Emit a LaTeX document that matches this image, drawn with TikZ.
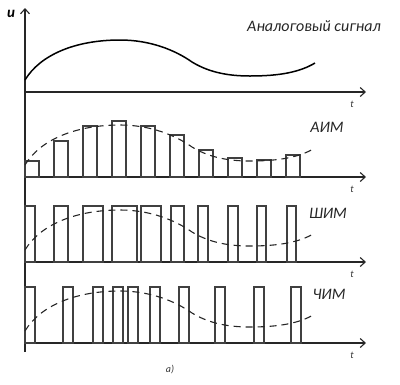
\documentclass[tikz,border=0pt]{standalone}
\usepackage{fontspec}
\setmainfont{Carlito}
\usetikzlibrary{arrows.meta}
\begin{document}
\begin{tikzpicture}[x=1pt,y=-1pt,
  axis/.style={line width=1.1pt, draw=black!85, -{Straight Barb[length=5pt,width=9pt]}},
  pulse/.style={line width=1.1pt, draw=black!75},
  sig/.style={line width=1.5pt, draw=black},
  dsig/.style={line width=1.1pt, draw=black!85, dash pattern=on 7pt off 5pt},
  lab/.style={font=\itshape\fontsize{16}{17}\selectfont, text=black!85, inner sep=0pt},
  tlab/.style={font=\itshape\fontsize{10}{11}\selectfont, text=black!80, inner sep=0pt}]
\useasboundingbox (0,0) rectangle (400,384);
\def\sigcurve{(25,80) .. controls (40,55) and (75,40) .. (120,40) .. controls (150,40) and (175,50) .. (192,62) .. controls (210,73) and (230,76) .. (250,76) .. controls (280,76) and (300,72) .. (315,63)}
% axes
\coordinate (o) at (25,352);
\coordinate (ytop) at (25,8);
\draw[axis] (o) -- (ytop);
\foreach \yy/\nm in {92/a,177/b,262/c,343/d}{
  \coordinate (s\nm) at (25,\yy);
  \coordinate (e\nm) at (366,\yy);
  \draw[axis] (s\nm) -- (e\nm);
  \node[tlab] (t\nm) at (352,\yy+12) {t};
}
\node[font=\itshape\bfseries\fontsize{15}{16}\selectfont, inner sep=0pt] (u) at (11,14) {u};
% analog
\draw[sig] \sigcurve;
\node[lab] (l1) at (314,26) {Аналоговый сигнал};
% AIM
\foreach \i/\h in {0/161,1/141,2/126,3/121,4/126,5/135,6/150,7/158,8/160,9/155}{
  \draw[pulse] (25+29*\i,177) rectangle (39+29*\i,\h);
}
\begin{scope}[yshift=-85pt]
\draw[dsig] \sigcurve;
\end{scope}
\node[lab] (l2) at (327,127) {АИМ};
% PWM
\foreach \a/\b in {25/35,54/68,83/103,112/137,141/161,171/184,198/208,228/238,257/266,287/296}{
  \draw[pulse] (\a,262) rectangle (\b,206);
}
\begin{scope}[yshift=-170pt]
\draw[dsig] \sigcurve;
\end{scope}
\node[lab] (l3) at (328,213) {ШИМ};
% FIM
\foreach \a in {25,63,93,113,128,150,179,215,254,291}{
  \draw[pulse] (\a,343) rectangle (\a+10,287);
}
\begin{scope}[yshift=-251pt]
\draw[dsig] \sigcurve;
\end{scope}
\node[lab] (l4) at (329,294) {ЧИМ};
\node[tlab] (cap) at (170,370) {а)};
\end{tikzpicture}
\end{document}
